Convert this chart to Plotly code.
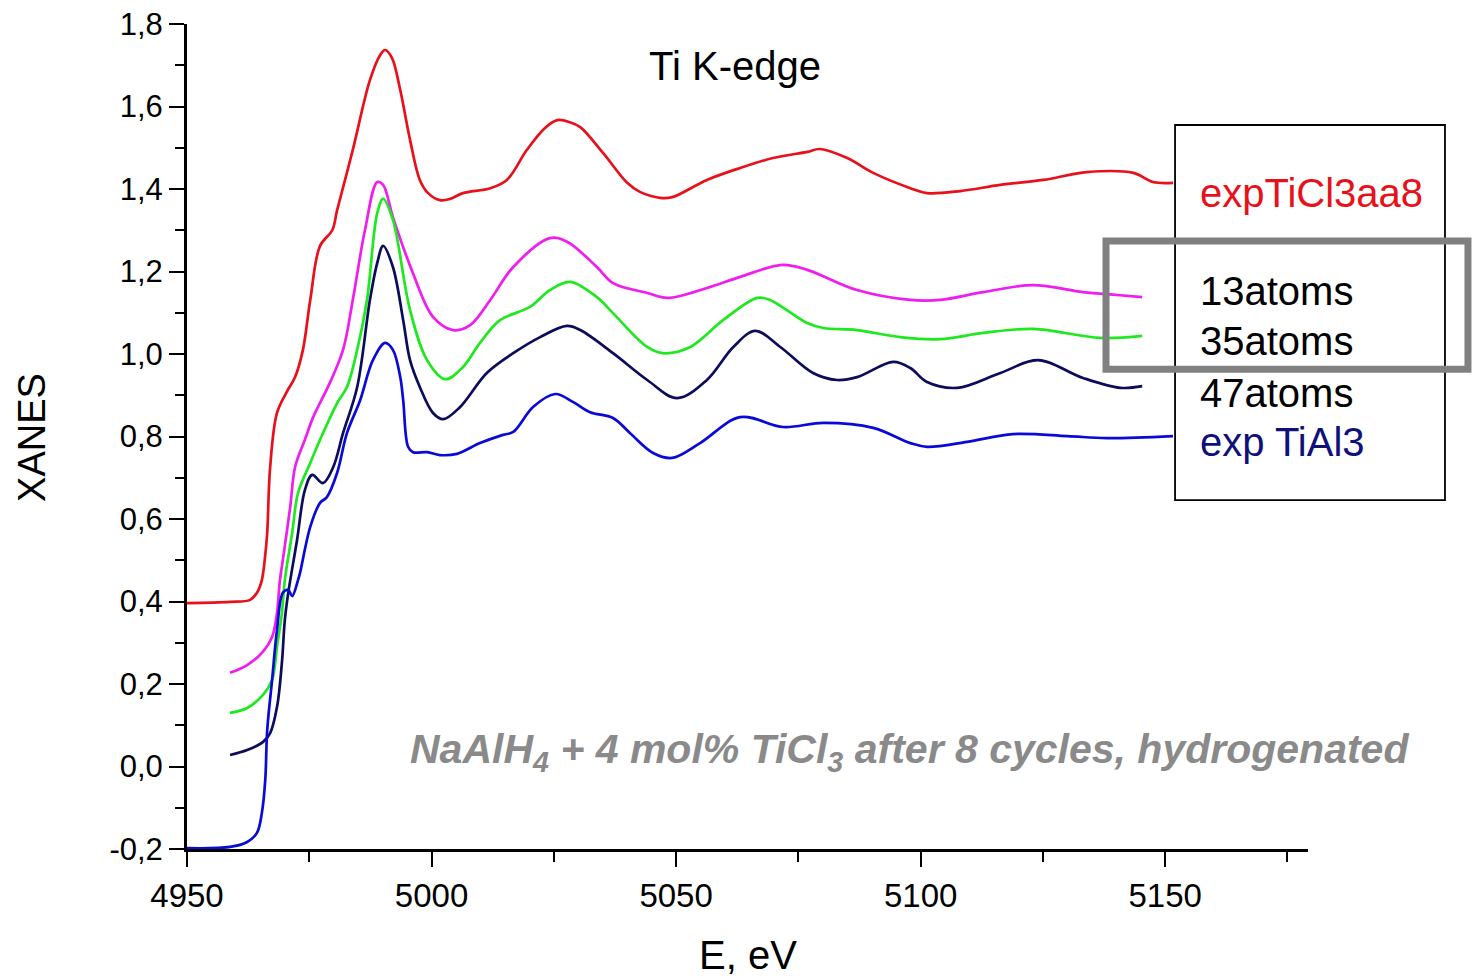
import plotly.graph_objects as go

# ---------------- data ----------------
red_E = [4950.0, 4958.8, 4962.9, 4964.3, 4965.3, 4966.0, 4966.4, 4967.0, 4968.4, 4970.4,
         4972.1, 4973.7, 4975.2, 4977.2, 4979.7, 4980.7, 4983.9, 4987.4, 4989.5, 4990.5,
         4991.9, 4993.6, 4995.6, 4997.6, 4999.3, 5001.7, 5003.8, 5006.4, 5012.0, 5015.4,
         5019.5, 5023.2, 5025.7, 5028.3, 5030.4, 5035.1, 5040.0, 5042.6, 5047.1, 5049.4,
         5056.3, 5063.1, 5069.8, 5076.8, 5079.4, 5085.0, 5090.3, 5097.9, 5101.3, 5108.1,
         5116.3, 5125.1, 5134.0, 5143.5, 5147.5, 5151.6]
red_V = [0.396, 0.399, 0.404, 0.421, 0.452, 0.513, 0.566, 0.726, 0.857, 0.908,
         0.944, 1.010, 1.131, 1.262, 1.300, 1.349, 1.495, 1.664, 1.725, 1.737,
         1.718, 1.640, 1.519, 1.422, 1.390, 1.373, 1.376, 1.390, 1.402, 1.422,
         1.495, 1.548, 1.567, 1.562, 1.550, 1.487, 1.415, 1.393, 1.378, 1.381,
         1.422, 1.451, 1.475, 1.490, 1.497, 1.475, 1.439, 1.402, 1.390, 1.395,
         1.410, 1.422, 1.441, 1.439, 1.417, 1.415]

mag_E = [4958.8, 4962.3, 4965.5, 4967.4, 4968.4, 4969.0, 4969.6, 4971.1, 4972.1, 4974.1,
         4975.8, 4979.2, 4981.9, 4983.9, 4986.4, 4988.9, 4990.1, 4992.1, 4996.2, 5000.3,
         5004.4, 5007.9, 5012.0, 5016.7, 5024.2, 5027.7, 5033.8, 5037.1, 5044.1, 5048.2,
         5056.3, 5063.1, 5071.7, 5076.8, 5087.0, 5097.9, 5104.0, 5112.8, 5123.0, 5133.2,
         5140.2, 5145.3]
mag_V = [0.227, 0.246, 0.278, 0.314, 0.372, 0.452, 0.501, 0.629, 0.726, 0.792,
         0.847, 0.930, 1.010, 1.131, 1.301, 1.417, 1.410, 1.332, 1.196, 1.090,
         1.058, 1.070, 1.131, 1.211, 1.281, 1.272, 1.211, 1.172, 1.148, 1.136,
         1.160, 1.187, 1.216, 1.204, 1.155, 1.131, 1.131, 1.150, 1.167, 1.150,
         1.143, 1.138]

grn_E = [4958.8, 4962.3, 4965.5, 4967.4, 4968.4, 4969.4, 4970.0, 4971.5, 4972.7, 4975.2,
         4977.2, 4980.7, 4982.7, 4984.8, 4986.8, 4988.9, 4990.1, 4992.1, 4995.6, 4999.1,
         5002.8, 5006.4, 5009.9, 5014.0, 5020.1, 5024.2, 5028.3, 5033.8, 5037.1, 5044.1,
         5047.3, 5052.9, 5059.6, 5066.6, 5069.2, 5076.8, 5080.1, 5087.0, 5095.8, 5104.0,
         5112.8, 5123.0, 5136.7, 5145.3]
grn_V = [0.130, 0.142, 0.173, 0.210, 0.290, 0.372, 0.452, 0.566, 0.663, 0.736,
         0.792, 0.881, 0.920, 1.010, 1.131, 1.342, 1.376, 1.325, 1.107, 0.985,
         0.939, 0.968, 1.027, 1.082, 1.114, 1.155, 1.175, 1.138, 1.099, 1.017,
         1.002, 1.017, 1.082, 1.136, 1.131, 1.075, 1.063, 1.058, 1.041, 1.036,
         1.051, 1.061, 1.039, 1.044]

nav_E = [4958.8, 4962.3, 4965.5, 4967.0, 4968.4, 4969.4, 4970.0, 4970.7, 4972.5, 4974.1,
         4975.6, 4977.8, 4979.9, 4981.9, 4984.8, 4987.4, 4988.9, 4990.1, 4992.1, 4994.2,
         4995.6, 4997.6, 5000.3, 5002.4, 5005.8, 5011.3, 5016.7, 5022.2, 5027.7, 5030.4,
         5037.1, 5044.1, 5050.2, 5056.3, 5061.7, 5066.2, 5071.3, 5078.0, 5082.9, 5087.0,
         5094.4, 5097.9, 5101.3, 5107.5, 5116.3, 5124.0, 5133.2, 5140.8, 5145.3]
nav_V = [0.028, 0.040, 0.059, 0.081, 0.144, 0.251, 0.355, 0.421, 0.549, 0.670,
         0.707, 0.687, 0.726, 0.808, 0.920, 1.131, 1.221, 1.262, 1.211, 1.082,
         0.985, 0.920, 0.857, 0.842, 0.871, 0.954, 1.002, 1.041, 1.068, 1.058,
         1.002, 0.937, 0.893, 0.937, 1.017, 1.056, 1.017, 0.954, 0.937, 0.944,
         0.981, 0.966, 0.932, 0.918, 0.954, 0.985, 0.942, 0.918, 0.922]

blu_E = [4950.0, 4958.8, 4962.3, 4964.3, 4965.3, 4966.0, 4966.4, 4967.4, 4968.4, 4969.6,
         4970.7, 4971.5, 4972.7, 4973.1, 4975.2, 4977.2, 4978.6, 4980.7, 4982.7, 4985.4,
         4988.0, 4990.5, 4992.1, 4993.6, 4994.2, 4995.2, 4996.2, 4999.1, 5001.7, 5005.2,
         5009.9, 5014.6, 5016.7, 5020.8, 5025.3, 5028.9, 5032.4, 5037.1, 5040.6, 5045.3,
         5049.2, 5054.9, 5063.1, 5071.9, 5080.1, 5090.3, 5097.9, 5101.3, 5109.5, 5118.9,
         5130.0, 5138.1, 5151.6]
blu_V = [-0.198, -0.195, -0.183, -0.161, -0.113, -0.033, 0.088, 0.210, 0.331, 0.421,
         0.428, 0.413, 0.452, 0.469, 0.581, 0.639, 0.653, 0.712, 0.808, 0.888,
         0.985, 1.027, 1.010, 0.944, 0.888, 0.775, 0.762, 0.762, 0.755, 0.758,
         0.784, 0.804, 0.811, 0.872, 0.903, 0.884, 0.859, 0.845, 0.808, 0.760,
         0.748, 0.784, 0.847, 0.823, 0.833, 0.821, 0.784, 0.775, 0.787, 0.806,
         0.801, 0.796, 0.801]

x_tickvals = [4950, 5000, 5050, 5100, 5150]
x_ticktext = ["4950", "5000", "5050", "5100", "5150"]
x_minor = [4975, 5025, 5075, 5125, 5175]
y_tickvals = [-0.2, 0.0, 0.2, 0.4, 0.6, 0.8, 1.0, 1.2, 1.4, 1.6, 1.8]
y_ticktext = ["-0,2", "0,0", "0,2", "0,4", "0,6", "0,8", "1,0", "1,2", "1,4", "1,6", "1,8"]
y_minor = [-0.1, 0.1, 0.3, 0.5, 0.7, 0.9, 1.1, 1.3, 1.5, 1.7]

labels = ["expTiCl3aa8", "13atoms", "35atoms", "47atoms", "exp TiAl3"]
label_colors = ["#e8101a", "#000000", "#000000", "#000000", "#10107a"]

# ---------------- figure ----------------
FONT = "Liberation Sans, Arial, sans-serif"
fig = go.Figure()
series = [
    (red_E, red_V, "#e8101a"),
    (mag_E, mag_V, "#f01cf0"),
    (grn_E, grn_V, "#1ee81e"),
    (nav_E, nav_V, "#0c0c5c"),
    (blu_E, blu_V, "#0a0ad8"),
]
for ex, vy, col in series:
    fig.add_trace(go.Scatter(x=ex, y=vy, mode="lines", line=dict(color=col, width=2.7),
                             line_shape="spline", hoverinfo="skip", cliponaxis=False))

fig.update_layout(
    width=1472, height=976, autosize=False,
    margin=dict(l=187, r=164, t=24, b=127, autoexpand=False),
    paper_bgcolor="white", plot_bgcolor="white",
    showlegend=False,
    font=dict(family=FONT, color="black"),
)
fig.update_xaxes(
    range=[4950, 5179.2], showgrid=False, zeroline=False, automargin=False,
    showline=True, linecolor="black", linewidth=3,
    tickmode="array", tickvals=x_tickvals, ticktext=x_ticktext,
    ticks="outside", ticklen=15, tickwidth=2, tickcolor="black",
    tickfont=dict(size=33, family=FONT),
    minor=dict(tickvals=x_minor, ticks="outside", ticklen=10, tickwidth=2, tickcolor="black"),
)
fig.update_yaxes(
    range=[-0.2, 1.8], showgrid=False, zeroline=False, automargin=False,
    showline=True, linecolor="black", linewidth=3,
    tickmode="array", tickvals=y_tickvals, ticktext=y_ticktext,
    ticks="outside", ticklen=15, tickwidth=2, tickcolor="black",
    tickfont=dict(size=31, family=FONT),
    minor=dict(tickvals=y_minor, ticks="outside", ticklen=9, tickwidth=2, tickcolor="black"),
)

# legend-like boxes
fig.add_shape(type="rect", xref="paper", yref="paper", x0=0.8814, x1=1.1222, y0=0.4230, y1=0.8776,
              line=dict(color="black", width=1.8), fillcolor="rgba(0,0,0,0)", layer="above")
fig.add_shape(type="rect", xref="paper", yref="paper", x0=0.8198, x1=1.1427, y0=0.5815, y1=0.7370,
              line=dict(color="#808080", width=7), fillcolor="rgba(0,0,0,0)", layer="above")

label_y = [0.7952, 0.6764, 0.6158, 0.5527, 0.4933]
for txt, col, yy in zip(labels, label_colors, label_y):
    fig.add_annotation(text=txt, xref="paper", yref="paper", x=0.9019, y=yy,
                       xanchor="left", yanchor="middle", showarrow=False,
                       font=dict(size=40, color=col, family=FONT))

fig.add_annotation(text="Ti K-edge", xref="paper", yref="paper", x=0.4889, y=0.9490,
                   xanchor="center", yanchor="middle", showarrow=False,
                   font=dict(size=40, color="black", family=FONT))
fig.add_annotation(text="<b><i>NaAlH<sub>4</sub> + 4 mol% TiCl<sub>3</sub> after 8 cycles, hydrogenated</i></b>",
                   xref="paper", yref="paper", x=0.6441, y=0.1176,
                   xanchor="center", yanchor="middle", showarrow=False,
                   font=dict(size=41, color="#8a8a8a", family=FONT))
fig.add_annotation(text="XANES", xref="paper", yref="paper", x=-0.1383, y=0.4994,
                   xanchor="center", yanchor="middle", showarrow=False, textangle=-90,
                   font=dict(size=38, color="black", family=FONT))
fig.add_annotation(text="E, eV", xref="paper", yref="paper", x=0.5004, y=-0.1285,
                   xanchor="center", yanchor="middle", showarrow=False,
                   font=dict(size=40, color="black", family=FONT))

fig.write_html("out.html")
